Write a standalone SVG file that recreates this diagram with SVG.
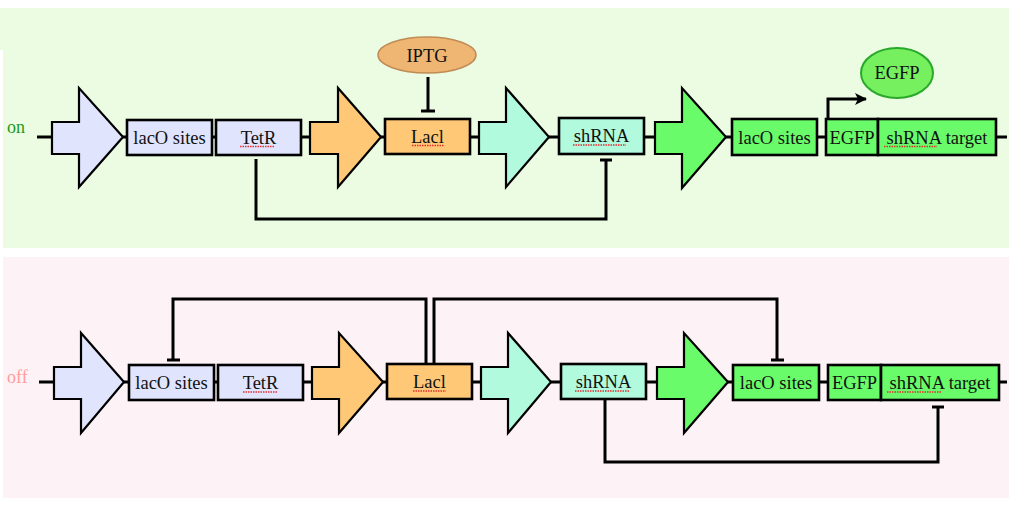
<svg xmlns="http://www.w3.org/2000/svg" width="1016" height="506" viewBox="0 0 1016 506">
<style>
  .lbl{font-family:"Liberation Serif","Times New Roman",serif;font-size:18.5px;fill:#111;text-anchor:middle}
  .box{stroke:#000;stroke-width:2.6}
  .arr{stroke:#000;stroke-width:2.2;stroke-linejoin:miter}
  .lav{fill:#e0e4fc}
  .org{fill:#ffc877}
  .teal{fill:#b1fadd}
  .grn{fill:#69fb69}
  .bb{stroke:#000;stroke-width:3;fill:none}
  .con{stroke:#000;stroke-width:3;fill:none;stroke-linejoin:miter}
  .sq{stroke:#e03030;stroke-width:1.3;stroke-dasharray:1.5 1;fill:none}
</style>
<defs>
  <marker id="ah" viewBox="0 0 12 12" refX="11" refY="6" markerWidth="12" markerHeight="12" markerUnits="userSpaceOnUse" orient="auto">
    <path d="M0,0 L12,6 L0,12 L3,6 Z" fill="#000"/>
  </marker>
</defs>

<!-- panels -->
<g id="panel-on">
  <rect x="0" y="8" width="1009" height="42" fill="#ecfce3"/>
  <rect x="3" y="8" width="1006" height="240" fill="#ecfce3"/>
  <text x="7" y="133" style="font-family:'Liberation Serif','Times New Roman',serif;font-size:18px;fill:#1a9a1a">on</text>
</g>
<g id="panel-off">
  <rect x="3" y="257" width="1006" height="241" fill="#fdf2f5"/>
  <text x="7" y="383" style="font-family:'Liberation Serif','Times New Roman',serif;font-size:18px;fill:#ff9c9c">off</text>
</g>

<!-- backbones -->
<g id="backbones">
  <line class="bb" x1="37" y1="137" x2="1007" y2="137"/>
  <line class="bb" x1="39" y1="382" x2="1007" y2="382"/>
</g>

<!-- TOP ROW -->
<g id="on-p1"><polygon class="arr lav" points="52,122 79,122 79,88 123,137 79,187 79,154 52,154"/></g>
<g id="on-laco1"><rect class="box lav" x="127" y="120" width="85" height="35"/><text class="lbl" x="169.5" y="143.5">lacO sites</text></g>
<g id="on-tetr"><rect class="box lav" x="216" y="120" width="85" height="35"/><text class="lbl" x="258.5" y="143.5">TetR</text><line class="sq" x1="240" y1="146.5" x2="275" y2="146.5"/></g>
<g id="on-p2"><polygon class="arr org" points="310,122 338,122 338,88 381,137 338,187 338,154 310,154"/></g>
<g id="on-laci"><rect class="box org" x="385" y="119" width="85" height="35"/><text class="lbl" x="427.5" y="142.5">Lacl</text><line class="sq" x1="412" y1="145.5" x2="444" y2="145.5"/></g>
<g id="on-iptg"><ellipse cx="427" cy="55" rx="49" ry="18" fill="#eeb573" stroke="#c08c55" stroke-width="1.5"/><text class="lbl" x="427" y="62">IPTG</text></g>
<g id="on-p3"><polygon class="arr teal" points="479,122 506,122 506,88 549,137 506,187 506,154 479,154"/></g>
<g id="on-shrna"><rect class="box teal" x="559" y="118" width="85" height="36"/><text class="lbl" x="601.5" y="142">shRNA</text><line class="sq" x1="573" y1="145" x2="626" y2="145"/></g>
<g id="on-p4"><polygon class="arr grn" points="655,122 682,122 682,88 726,137 682,188 682,154 655,154"/></g>
<g id="on-laco2"><rect class="box grn" x="732" y="119" width="85" height="36"/><text class="lbl" x="774.5" y="143.5">lacO sites</text></g>
<g id="on-egfp"><rect class="box grn" x="826" y="119" width="52" height="36"/><text class="lbl" x="852" y="143.5">EGFP</text></g>
<g id="on-target"><rect class="box grn" x="878" y="119" width="118" height="36"/><text class="lbl" x="937" y="143.5">shRNA target</text><line class="sq" x1="884" y1="146.5" x2="937" y2="146.5"/></g>
<g id="on-egfp-protein"><ellipse cx="897" cy="73" rx="36" ry="25" fill="#77f060" stroke="#2aa82a" stroke-width="2"/><text class="lbl" x="897" y="79">EGFP</text></g>

<!-- BOTTOM ROW -->
<g id="off-p1"><polygon class="arr lav" points="54,367 81,367 81,333 124,382 81,433 81,399 54,399"/></g>
<g id="off-laco1"><rect class="box lav" x="129" y="365" width="85" height="35"/><text class="lbl" x="171.5" y="389">lacO sites</text></g>
<g id="off-tetr"><rect class="box lav" x="218" y="365" width="85" height="35"/><text class="lbl" x="260.5" y="389">TetR</text><line class="sq" x1="243" y1="392" x2="277" y2="392"/></g>
<g id="off-p2"><polygon class="arr org" points="312,367 339,367 339,333 383,382 339,433 339,399 312,399"/></g>
<g id="off-laci"><rect class="box org" x="387" y="364" width="85" height="35"/><text class="lbl" x="429.5" y="388">Lacl</text><line class="sq" x1="413" y1="391" x2="446" y2="391"/></g>
<g id="off-p3"><polygon class="arr teal" points="481,367 508,367 508,333 551,382 508,433 508,399 481,399"/></g>
<g id="off-shrna"><rect class="box teal" x="561" y="364" width="85" height="35"/><text class="lbl" x="603.5" y="388">shRNA</text><line class="sq" x1="575" y1="391" x2="629" y2="391"/></g>
<g id="off-p4"><polygon class="arr grn" points="657,367 684,367 684,333 728,382 684,433 684,399 657,399"/></g>
<g id="off-laco2"><rect class="box grn" x="733" y="365" width="86" height="35"/><text class="lbl" x="776" y="389">lacO sites</text></g>
<g id="off-egfp"><rect class="box grn" x="828" y="365" width="53" height="35"/><text class="lbl" x="854.5" y="389">EGFP</text></g>
<g id="off-target"><rect class="box grn" x="881" y="365" width="118" height="35"/><text class="lbl" x="940" y="389">shRNA target</text><line class="sq" x1="887" y1="392" x2="941" y2="392"/></g>

<!-- connectors -->
<g id="connectors">
  <!-- IPTG -| LacI -->
  <path class="con" d="M428,77 V111 M421,111 H435"/>
  <!-- promoter arrow to EGFP -->
  <path class="con" d="M828,119 V99 H866" marker-end="url(#ah)"/>
  <!-- TetR -| shRNA -->
  <path class="con" d="M256,159 V219 H606 V160 M600,160 H612"/>
  <!-- LacI -| lacO sites (left) -->
  <path class="con" d="M426,363 V299 H173 V360 M167,360 H180"/>
  <!-- LacI -| lacO sites (right) -->
  <path class="con" d="M434,363 V299 H777 V360 M771,360 H784"/>
  <!-- shRNA -| shRNA target -->
  <path class="con" d="M605,400 V462 H938 V407 M932,407 H944"/>
</g>
</svg>
